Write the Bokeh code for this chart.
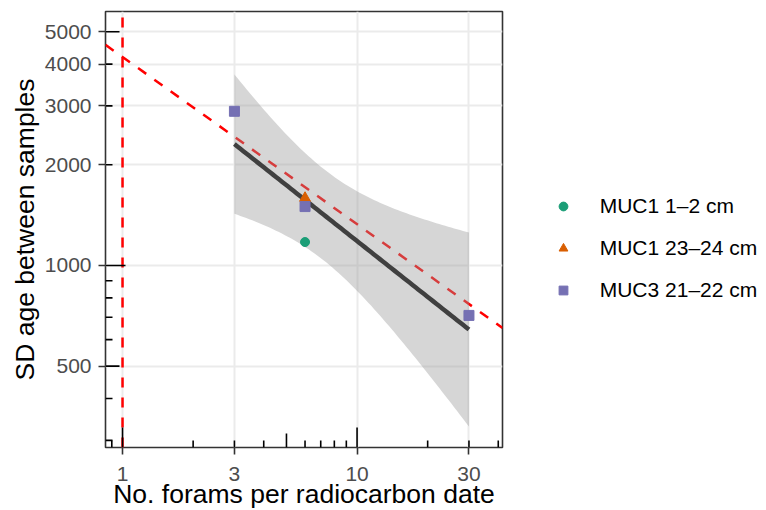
import numpy as np
from bokeh.plotting import figure
from bokeh.models import (FixedTicker, Legend, LegendItem, Range1d, NumeralTickFormatter)
from bokeh.embed import file_html
from bokeh.resources import INLINE

# ---------------- data ----------------
series_labels = ["MUC1 1\u20132 cm", "MUC1 23\u201324 cm", "MUC3 21\u201322 cm"]
muc1_top_n = [6]
muc1_top_sd = [1175]
muc1_deep_n = [6]
muc1_deep_sd = [1590]
muc3_n = [3, 6, 30]
muc3_sd = [2890, 1500, 709]

x_ticks = [1, 3, 10, 30]
y_ticks = [500, 1000, 2000, 3000, 4000, 5000]
x_limits = (0.846, 41.7)
y_limits = (285.6, 5745)

# reference line: SD expected for n forams = SD(single foram) / sqrt(n)
ref_sd_single = 4200
ref_exponent = -0.5
single_foram_n = 1

# log-tick annotation positions
x_log_long = [1, 10]
x_log_mid = [5]
x_log_short = [0.9, 2, 3, 4, 6, 7, 8, 9, 20, 30, 40]
y_log_long = [1000]
y_log_mid = [500, 5000]
y_log_short = [300, 400, 600, 700, 800, 900, 2000, 3000, 4000]

T_975_DF3 = 3.182446  # t quantile for 95% CI, 3 residual df

# ---------------- linear fit in log-log space (geom_smooth lm) ----------------
all_n = np.array(muc1_top_n + muc1_deep_n + muc3_n, dtype=float)
all_sd = np.array(muc1_top_sd + muc1_deep_sd + muc3_sd, dtype=float)
lx = np.log10(all_n)
ly = np.log10(all_sd)
nobs = len(lx)
mx, my = lx.mean(), ly.mean()
sxx = ((lx - mx) ** 2).sum()
slope = ((lx - mx) * (ly - my)).sum() / sxx
icpt = my - slope * mx
resid = ly - (icpt + slope * lx)
s = np.sqrt((resid ** 2).sum() / (nobs - 2))
gx = np.linspace(lx.min(), lx.max(), 80)
gy = icpt + slope * gx
se = s * np.sqrt(1.0 / nobs + (gx - mx) ** 2 / sxx)
fit_x = 10 ** gx
fit_y = 10 ** gy
fit_lo = 10 ** (gy - T_975_DF3 * se)
fit_hi = 10 ** (gy + T_975_DF3 * se)

# ---------------- figure ----------------
FONT = "Liberation Sans"
p = figure(x_axis_type="log", y_axis_type="log",
           x_range=Range1d(*x_limits), y_range=Range1d(*y_limits),
           frame_width=397, frame_height=436,
           min_border_left=105, min_border_right=256,
           min_border_top=11, min_border_bottom=63,
           toolbar_location=None, output_backend="svg",
           background_fill_color="white", border_fill_color="white")

p.outline_line_color = "#333333"
p.outline_line_width = 1.6

for ax, ticks in ((p.xaxis, x_ticks), (p.yaxis, y_ticks)):
    ax.ticker = FixedTicker(ticks=ticks, minor_ticks=[])
    ax.formatter = NumeralTickFormatter(format="0")
    ax.axis_line_color = None
    ax.major_tick_in = 0
    ax.major_tick_out = 7
    ax.major_tick_line_color = "#333333"
    ax.major_tick_line_width = 1.6
    ax.minor_tick_line_color = None
    ax.major_label_text_font = FONT
    ax.major_label_text_font_size = "21px"
    ax.major_label_text_color = "#4D4D4D"
    ax.axis_label_text_font = FONT
    ax.axis_label_text_font_size = "26.5px"
    ax.axis_label_text_font_style = "normal"
    ax.axis_label_text_color = "black"

p.xaxis.axis_label = "No. forams per radiocarbon date"
p.yaxis.axis_label = "SD age between samples"
p.xaxis.major_label_standoff = 12
p.xaxis.axis_label_standoff = -5
p.yaxis.major_label_standoff = 7
p.yaxis.axis_label_standoff = 2

p.xgrid.grid_line_color = "#EBEBEB"
p.ygrid.grid_line_color = "#EBEBEB"
p.xgrid.grid_line_width = 2
p.ygrid.grid_line_width = 2

# reference lines (drawn beneath the confidence band)
p.line(x=[single_foram_n, single_foram_n], y=list(y_limits),
       line_color="red", line_width=2.5, line_dash="10 10")
ref_x = np.array(x_limits)
ref_y = ref_sd_single * (ref_x / single_foram_n) ** ref_exponent
p.line(x=ref_x, y=ref_y, line_color="red", line_width=2.5, line_dash="10 10")

# smooth
p.varea(x=fit_x, y1=fit_lo, y2=fit_hi, fill_color="#999999", fill_alpha=0.4)
p.line(x=fit_x, y=fit_y, line_color="#404040", line_width=4.5)

# points
r1 = p.scatter(x=muc1_top_n, y=muc1_top_sd, marker="circle", size=9,
               fill_color="#1B9E77", line_color="#1B9E77")
r2 = p.scatter(x=muc1_deep_n, y=muc1_deep_sd, marker="triangle", size=11,
               fill_color="#D95F02", line_color="#D95F02")
r3 = p.scatter(x=muc3_n, y=muc3_sd, marker="square", size=10,
               fill_color="#7570B3", line_color="#7570B3")

# annotation_logticks (bottom and left)
for vals, ln in ((x_log_long, 20), (x_log_mid, 14), (x_log_short, 7)):
    p.ray(x=vals, y=[y_limits[0]] * len(vals), length=ln, length_units="screen",
          angle=np.pi / 2, line_color="black", line_width=1.6)
for vals, ln in ((y_log_long, 20), (y_log_mid, 14), (y_log_short, 7)):
    p.ray(x=[x_limits[0]] * len(vals), y=vals, length=ln, length_units="screen",
          angle=0, line_color="black", line_width=1.6)

legend = Legend(items=[LegendItem(label=series_labels[0], renderers=[r1]),
                       LegendItem(label=series_labels[1], renderers=[r2]),
                       LegendItem(label=series_labels[2], renderers=[r3])],
                location=(49.7, 145.2), glyph_width=22, glyph_height=22,
                label_standoff=26, spacing=18, padding=0, margin=0,
                border_line_color=None, background_fill_alpha=0,
                label_text_font=FONT, label_text_font_size="21px",
                label_text_color="black")
p.add_layout(legend, "right")

open("out.html", "w").write(file_html(p, INLINE))
